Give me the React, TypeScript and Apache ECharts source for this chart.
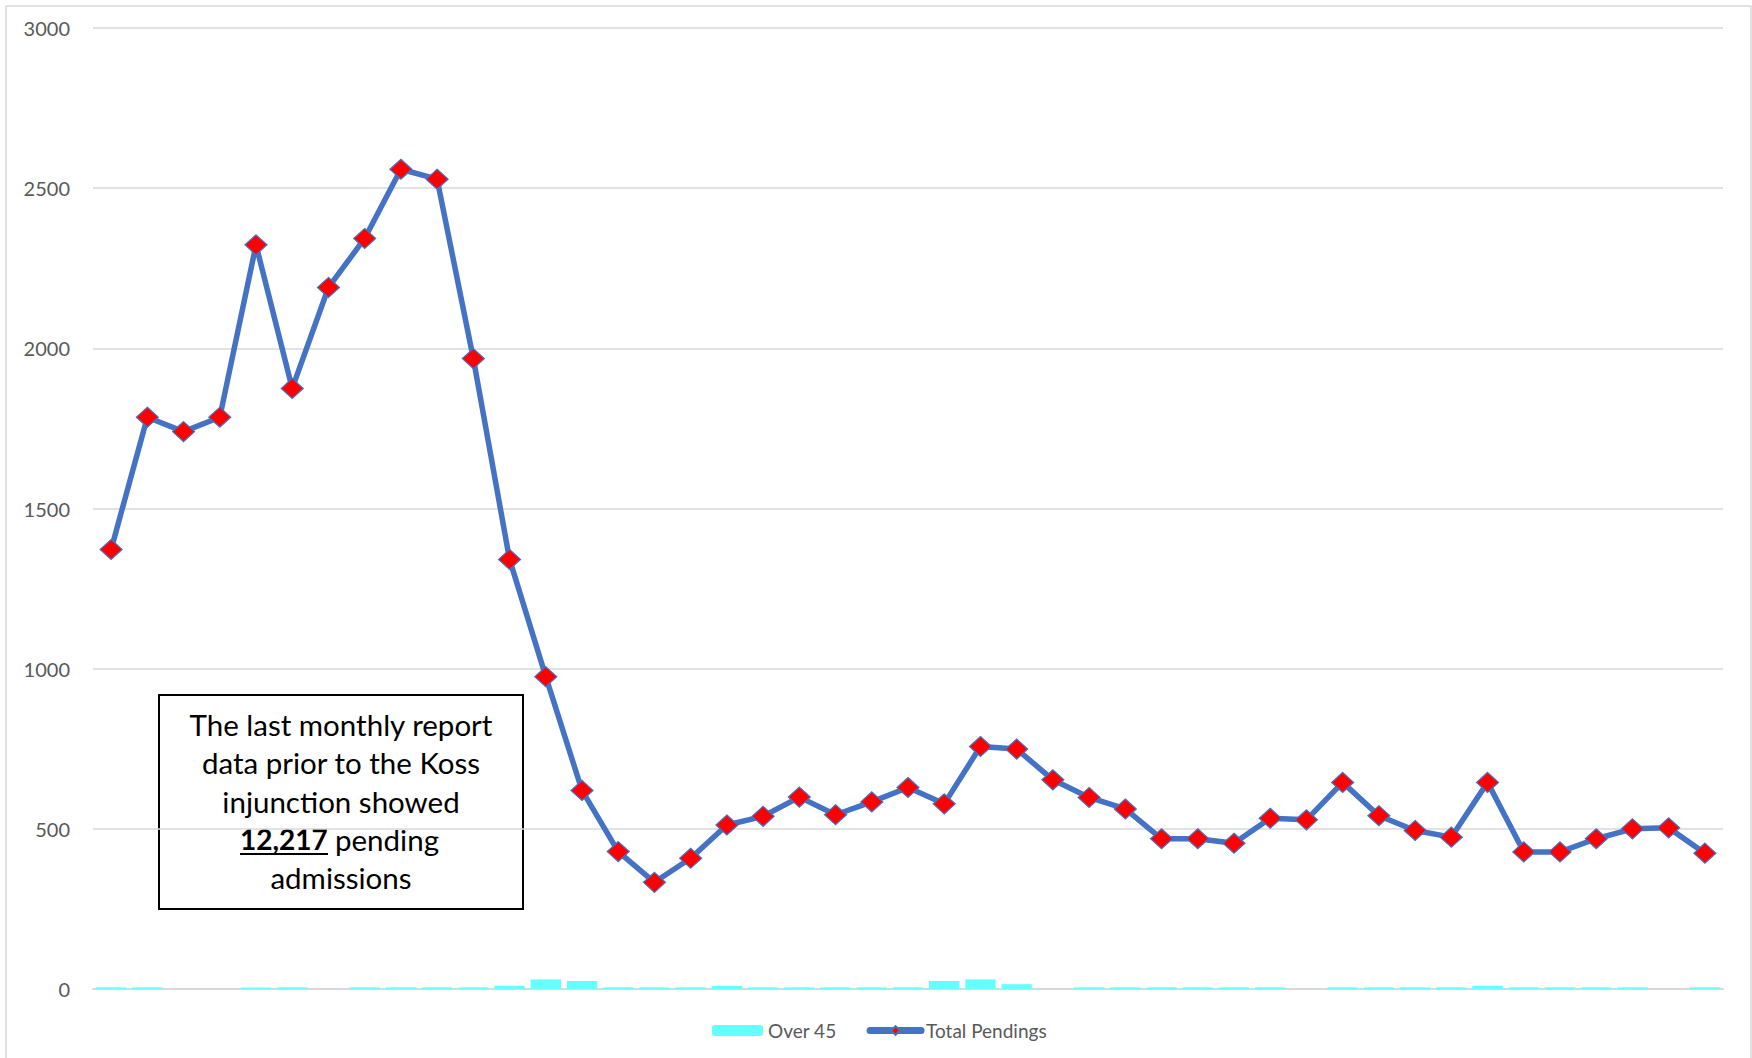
import React, { useEffect, useRef } from "react";
import * as echarts from "echarts";

const totalPendings = [
  1372, 1785, 1740, 1785, 2323, 1875, 2190, 2343, 2559, 2528, 1968, 1341, 975,
  620, 429, 333, 408, 512, 539, 599, 544, 584, 629, 578, 757, 749, 653, 598, 562,
  469, 469, 455, 533, 528, 645, 541, 495, 474, 645, 428, 428, 469, 500, 503, 424,
];
const over45 = [
  5, 5, 0, 0, 5, 5, 0, 5, 5, 5, 5, 10, 30, 25, 5, 5, 5, 10, 5, 5, 5, 5, 5, 25,
  30, 15, 0, 5, 5, 5, 5, 5, 5, 0, 5, 5, 5, 5, 10, 5, 5, 5, 5, 0, 5,
];
const categories = totalPendings.map((_, i) => `${i + 1}`);
const yTicks = [0, 500, 1000, 1500, 2000, 2500, 3000];
const seriesNames = ["Over 45", "Total Pendings"];
const noteLines = ["The last monthly report", "data prior to the Koss", "injunction showed"];
const noteNumber = "12,217";
const noteAfterNumber = "pending";
const noteLast = "admissions";

const FONT = "Lato, 'Open Sans', sans-serif";

export default function App() {
  const ref = useRef<HTMLDivElement>(null);
  useEffect(() => {
    document.body.style.margin = "0";
    if (!ref.current) return;
    const chart = echarts.init(ref.current, undefined, { renderer: "svg" });
    const boxX = 159;
    const boxY = 695;
    const boxW = 364;
    const boxH = 214;
    const cx = boxX + boxW / 2;
    const lineYs = [724, 762, 801];
    const noteSize = 29.5;
    chart.setOption({
      animation: false,
      backgroundColor: "#ffffff",
      grid: { left: 93, right: 29, top: 28, bottom: 69, containLabel: false },
      legend: {
        data: [
          { name: seriesNames[0] },
          { name: seriesNames[1], lineStyle: { width: 7, cap: "round" } },
        ],
        left: 707,
        top: 1016,
        itemWidth: 51,
        itemHeight: 11,
        itemGap: 30,
        textStyle: { color: "#595959", fontSize: 19, fontFamily: FONT },
      },
      xAxis: {
        type: "category",
        data: categories,
        boundaryGap: true,
        axisLine: { show: true, lineStyle: { color: "#d9d9d9", width: 2 } },
        axisTick: { show: false },
        axisLabel: { show: false },
        splitLine: { show: false },
      },
      yAxis: {
        type: "value",
        min: yTicks[0],
        max: yTicks[yTicks.length - 1],
        interval: 500,
        axisLine: { show: false },
        axisTick: { show: false },
        axisLabel: {
          color: "#595959",
          fontSize: 20,
          fontFamily: FONT,
          margin: 23,
          formatter: (v: number) => String(v),
        },
        splitLine: { lineStyle: { color: "#d9d9d9", width: 1.5 } },
      },
      series: [
        {
          name: seriesNames[0],
          type: "bar",
          data: over45,
          barCategoryGap: "16%",
          itemStyle: { color: "#66ffff" },
          z: 1,
        },
        {
          name: seriesNames[1],
          type: "line",
          data: totalPendings,
          symbol: "diamond",
          symbolSize: [22, 20],
          lineStyle: { color: "#4472c4", width: 5.5 },
          itemStyle: { color: "#ff0000", borderColor: "#4472c4", borderWidth: 1.2 },
          z: 3,
        },
      ],
      graphic: [
        {
          type: "rect",
          silent: true,
          shape: { x: 6, y: 6, width: 1745, height: 1060 },
          style: { fill: "none", stroke: "#d9d9d9", lineWidth: 1.5 },
          z: 0,
        },
        {
          type: "group",
          z: 100,
          children: [
            {
              type: "rect",
              shape: { x: boxX, y: boxY, width: boxW, height: boxH },
              style: { fill: "#ffffff", stroke: "#000000", lineWidth: 2 },
            },
            ...noteLines.map((t, i) => ({
              type: "text",
              x: cx,
              y: lineYs[i],
              style: {
                text: t,
                fill: "#000000",
                fontSize: noteSize,
                fontFamily: FONT,
                align: "center",
                verticalAlign: "middle",
              },
            })),
            {
              type: "text",
              x: 240,
              y: 839,
              style: {
                text: noteNumber,
                fill: "#000000",
                fontSize: 28,
                fontWeight: "bold",
                fontFamily: FONT,
                align: "left",
                verticalAlign: "middle",
              },
            },
            {
              type: "line",
              shape: { x1: 240, y1: 854, x2: 328, y2: 854 },
              style: { stroke: "#000000", lineWidth: 2 },
            },
            {
              type: "text",
              x: 335,
              y: 839,
              style: {
                text: noteAfterNumber,
                fill: "#000000",
                fontSize: noteSize,
                fontFamily: FONT,
                align: "left",
                verticalAlign: "middle",
              },
            },
            {
              type: "text",
              x: cx,
              y: 877,
              style: {
                text: noteLast,
                fill: "#000000",
                fontSize: noteSize,
                fontFamily: FONT,
                align: "center",
                verticalAlign: "middle",
              },
            },
          ],
        },
      ],
    });
    return () => chart.dispose();
  }, []);
  return <div ref={ref} style={{ width: 1752, height: 1058 }} />;
}
